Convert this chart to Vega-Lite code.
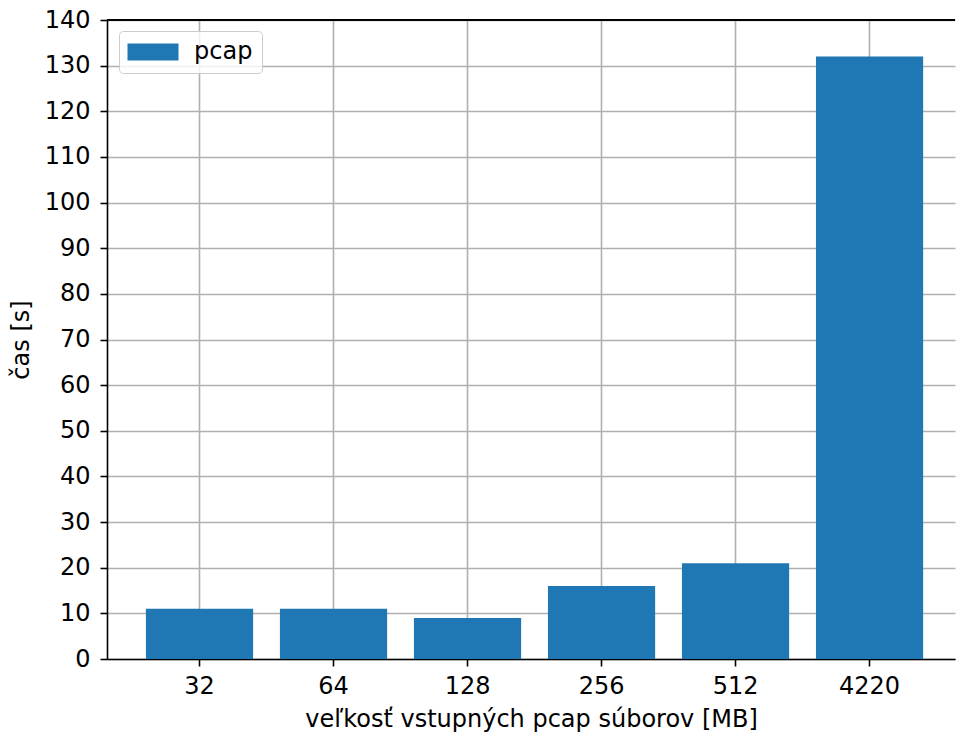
{
  "$schema": "https://vega.github.io/schema/vega-lite/v6.json",
  "width": 848,
  "height": 639,
  "autosize": {"type": "none"},
  "padding": {"left": 107, "top": 20, "right": 1, "bottom": 74},
  "background": "white",
  "config": {
    "view": {"stroke": null},
    "font": "DejaVu Sans",
    "axis": {
      "labelFont": "DejaVu Sans",
      "titleFont": "DejaVu Sans",
      "labelFontSize": 24,
      "titleFontSize": 24,
      "titleFontWeight": "normal",
      "labelColor": "black",
      "titleColor": "black",
      "domainColor": "black",
      "domainWidth": 1.6,
      "tickColor": "black",
      "tickWidth": 1.6,
      "tickSize": 7,
      "gridColor": "#b0b0b0",
      "gridWidth": 1.6,
      "gridOpacity": 1
    }
  },
  "data": {
    "values": [
      {"size": "32", "time": 11, "series": "pcap"},
      {"size": "64", "time": 11, "series": "pcap"},
      {"size": "128", "time": 9, "series": "pcap"},
      {"size": "256", "time": 16, "series": "pcap"},
      {"size": "512", "time": 21, "series": "pcap"},
      {"size": "4220", "time": 132, "series": "pcap"}
    ]
  },
  "layer": [
    {
      "mark": {"type": "bar", "color": "#1f77b4"},
      "encoding": {
        "x": {
          "field": "size",
          "type": "ordinal",
          "sort": null,
          "scale": {"paddingInner": 0.2, "paddingOuter": 0.264, "align": 0.55},
          "axis": {
            "title": "veľkosť vstupných pcap súborov [MB]",
            "labelAngle": 0,
            "labelPadding": 8,
            "titlePadding": 9,
            "grid": true,
            "bandPosition": 0.5,
            "domain": true
          }
        },
        "y": {
          "field": "time",
          "type": "quantitative",
          "scale": {"domain": [0, 140], "nice": false},
          "axis": {
            "title": "čas [s]",
            "values": [0, 10, 20, 30, 40, 50, 60, 70, 80, 90, 100, 110, 120, 130, 140],
            "labelPadding": 10,
            "titlePadding": 11,
            "grid": true
          }
        },
        "color": {
          "field": "series",
          "type": "nominal",
          "scale": {"range": ["#1f77b4"]},
          "legend": {
            "title": null,
            "orient": "none",
            "legendX": 12,
            "legendY": 11,
            "symbolType": "M-3,-1H3V1H-3Z",
            "symbolSize": 289,
            "symbolStrokeWidth": 0,
            "symbolOpacity": 1,
            "symbolOffset": 13,
            "labelOffset": 29,
            "labelFontSize": 24,
            "labelFont": "DejaVu Sans",
            "labelColor": "black",
            "padding": 9,
            "fillColor": "rgba(255,255,255,0.8)",
            "strokeColor": "#cccccc",
            "cornerRadius": 4
          }
        }
      }
    },
    {
      "mark": {"type": "rule", "color": "black", "strokeWidth": 1.6},
      "encoding": {"y": {"datum": 140}}
    }
  ]
}
